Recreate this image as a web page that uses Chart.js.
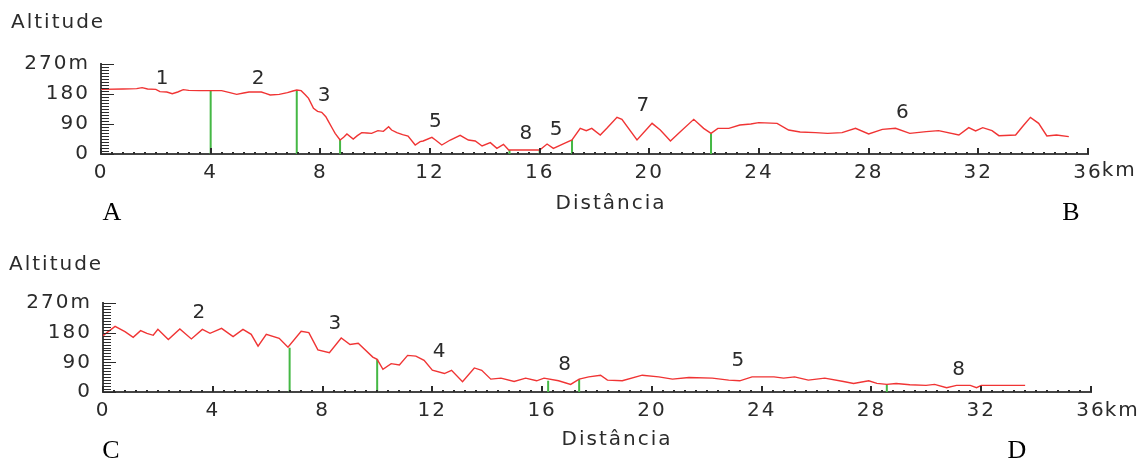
<!DOCTYPE html>
<html>
<head>
<meta charset="utf-8">
<script src="https://cdn.jsdelivr.net/npm/chart.js@4.4.1/dist/chart.umd.min.js"></script>
<style>
  html, body { margin: 0; padding: 0; background: #fff; }
  #wrap { position: relative; width: 1146px; height: 464px; }
  canvas { position: absolute; left: 0; }
</style>
</head>
<body>
<div id="wrap">
  <canvas id="profileAB" width="1146" height="232" style="top:0"></canvas>
  <canvas id="profileCD" width="1146" height="232" style="top:232px"></canvas>
</div>
<script>
// route A -> B (distance km, altitude m)
const abKm = [0, 0.8, 1.3, 1.5, 1.7, 2.0, 2.15, 2.4, 2.6, 2.8, 3.0, 3.2, 3.6, 4.0, 4.4, 4.7, 4.95, 5.2, 5.4, 5.85,
  6.0, 6.17, 6.5, 6.8, 7.0, 7.14, 7.3, 7.45, 7.57, 7.75, 7.9, 8.05, 8.2, 8.3, 8.45, 8.54, 8.72, 8.85, 8.97, 9.2,
  9.35, 9.51, 9.7, 9.87, 10.1, 10.3, 10.49, 10.6, 10.79, 11.0, 11.2, 11.46, 11.64, 11.75, 12.07, 12.2, 12.43, 12.74, 13.1, 13.4,
  13.65, 13.9, 14.2, 14.44, 14.68, 14.87, 16.0, 16.27, 16.5, 16.9, 17.18, 17.48, 17.7, 17.9, 18.21, 18.45, 18.82, 19.0, 19.55, 20.1,
  20.4, 20.77, 21.07, 21.62, 21.98, 22.25, 22.5, 22.9, 23.3, 23.7, 23.99, 24.66, 25.08, 25.5, 26.06, 26.5, 27.03, 27.52, 28.0, 28.5,
  28.98, 29.5, 30.1, 30.55, 31.29, 31.65, 31.9, 32.16, 32.5, 32.75, 33.36, 33.66, 33.9, 34.2, 34.5, 34.85, 35.3];
const abAlt = [194, 195, 196, 199, 195, 194, 187, 186, 181, 186, 193, 191, 190, 190, 190, 184, 179, 183, 186, 186,
  182, 177, 179, 184, 189, 192, 190, 178, 167, 137, 128, 125, 112, 97, 75, 62, 42, 50, 60, 45,
  55, 64, 63, 62, 70, 68, 82, 72, 64, 58, 54, 27, 37, 39, 50, 42, 27, 42, 56, 42,
  39, 24, 34, 17, 29, 12, 12, 30, 17, 32, 42, 77, 70, 77, 57, 77, 110, 104, 42, 92,
  72, 39, 62, 104, 77, 62, 77, 77, 87, 90, 94, 92, 72, 66, 64, 62, 64, 77, 60, 74,
  77, 62, 67, 70, 57, 79, 69, 79, 70, 55, 57, 87, 110, 92, 54, 57, 52];
const abCutKm = [4.0, 7.14, 8.72, 14.9, 16.0, 17.18, 22.25];
const abCutAlt = [190, 192, 42, 12, 12, 42, 62];
const abTagKm = [2.23, 5.73, 8.14, 12.2, 15.5, 16.6, 19.76, 29.23];
const abTagAlt = [226, 225, 174, 97, 60, 72, 145, 123];
const abTagText = ['1', '2', '3', '5', '8', '5', '7', '6'];

// route C -> D
const cdKm = [0, 0.44, 0.8, 1.1, 1.37, 1.6, 1.83, 2.0, 2.38, 2.8, 3.22, 3.62, 3.9, 4.32, 4.74, 5.1, 5.4, 5.65, 5.95, 6.42,
  6.74, 7.22, 7.5, 7.83, 8.25, 8.68, 9.0, 9.3, 9.83, 9.99, 10.2, 10.5, 10.8, 11.1, 11.4, 11.7, 12.0, 12.44, 12.7, 13.1,
  13.53, 13.8, 14.13, 14.5, 14.98, 15.4, 15.8, 16.07, 16.6, 17.04, 17.35, 17.7, 18.13, 18.38, 18.92, 19.65, 20.25, 20.75, 21.35, 22.2,
  22.8, 23.2, 23.65, 24.45, 24.8, 25.2, 25.7, 26.3, 26.98, 27.35, 27.9, 28.2, 28.56, 28.9, 29.4, 29.99, 30.3, 30.74, 31.1, 31.6,
  31.83, 32.0, 33.6];
const cdAlt = [171, 199, 183, 166, 186, 178, 172, 190, 159, 191, 161, 190, 178, 193, 168, 190, 175, 139, 175, 163,
  136, 184, 180, 128, 119, 164, 144, 148, 106, 99, 69, 86, 82, 111, 109, 96, 66, 56, 66, 31,
  73, 66, 39, 42, 32, 42, 34, 42, 34, 23, 39, 46, 51, 36, 34, 51, 46, 39, 44, 42,
  36, 34, 46, 46, 42, 46, 36, 42, 32, 26, 34, 26, 23, 26, 22, 20, 23, 13, 20, 20,
  13, 20, 20];
const cdCutKm = [6.8, 9.99, 16.22, 17.35, 28.56];
const cdCutAlt = [134, 99, 34, 39, 23];
const cdTagKm = [3.49, 8.45, 12.25, 16.82, 23.13, 31.18];
const cdTagAlt = [240, 207, 123, 84, 96, 67];
const cdTagText = ['2', '3', '4', '8', '5', '8'];

const xTicks = [0, 4, 8, 12, 16, 20, 24, 28, 32, 36];
const yTicks = [0, 90, 180, 270];

const FONT = '"DejaVu Sans", sans-serif';
const INK = '#2b2b2b';

// ruler ticks, texts and letters drawn on top of the chart
const rulerPlugin = {
    id: 'ruler',
    beforeDraw(chart) {
        chart.ctx.letterSpacing = '2px';
    },
    afterDraw(chart, args, opts) {
        const { ctx, chartArea: a, scales: { x, y } } = chart;
        ctx.save();
        ctx.fillStyle = INK;
        for (let v = 0; v <= 270; v += 9) {
            const py = Math.round(y.getPixelForValue(v));
            ctx.fillRect(a.left, py, v % 90 === 0 ? 13 : 8, 1);
        }
        for (let i = 0; i <= 90; i++) {
            const px = Math.round(x.getPixelForValue(i * 0.4));
            const h = i % 10 === 0 ? 6 : 2;
            ctx.fillRect(px - 1, a.bottom - h, 2, h);
        }

        ctx.font = '20px ' + FONT;
        ctx.textBaseline = 'middle';
        ctx.textAlign = 'left';
        ctx.fillText('Altitude', opts.titleX, opts.titleY);
        const w36 = ctx.measureText('36').width;
        ctx.fillText('km', x.getPixelForValue(36) + w36 / 2 - 1, opts.kmY);
        ctx.textAlign = 'center';
        ctx.fillText('Distância', opts.axisX, opts.axisY);
        opts.tags.text.forEach((t, i) => {
            ctx.fillText(t, x.getPixelForValue(opts.tags.km[i]) + 1, y.getPixelForValue(opts.tags.alt[i]));
        });

        ctx.letterSpacing = '0px';
        ctx.fillStyle = '#000';
        ctx.font = '26px "Liberation Serif", "Times New Roman", serif';
        opts.letters.forEach(l => ctx.fillText(l.t, l.x, l.y));
        ctx.restore();
    }
};

function drawProfile(canvasId, km, alt, cutKm, cutAlt, frame, decor) {
    const ctx = document.getElementById(canvasId).getContext('2d');
    const cuts = cutKm.flatMap((k, i) => [{ x: k, y: 0 }, { x: k, y: cutAlt[i] }, { x: k, y: null }]);
    return new Chart(ctx, {
        type: 'line',
        data: {
            datasets: [
                {
                    data: km.map((k, i) => ({ x: k, y: alt[i] })),
                    borderColor: '#f03434',
                    borderWidth: 1.4,
                    pointRadius: 0,
                    tension: 0
                },
                {
                    data: cuts,
                    borderColor: '#45b845',
                    borderWidth: 2,
                    pointRadius: 0,
                    spanGaps: false
                }
            ]
        },
        options: {
            responsive: false,
            animation: false,
            layout: { padding: { top: frame.top, right: frame.right, left: 0, bottom: 0 } },
            plugins: {
                legend: { display: false },
                tooltip: { enabled: false },
                ruler: decor
            },
            scales: {
                x: {
                    type: 'linear',
                    min: 0,
                    max: 36,
                    afterBuildTicks: axis => { axis.ticks = xTicks.map(v => ({ value: v })); },
                    afterFit: axis => { axis.height = frame.xHeight; },
                    grid: { display: false, drawTicks: false },
                    border: { display: true, color: '#444', width: 2 },
                    ticks: {
                        padding: 7,
                        color: INK,
                        font: { family: FONT, size: 20 },
                        maxRotation: 0,
                        callback: v => String(v)
                    }
                },
                y: {
                    min: 0,
                    max: 270,
                    afterBuildTicks: axis => { axis.ticks = yTicks.map(v => ({ value: v })); },
                    afterFit: axis => { axis.width = frame.left; },
                    grid: { display: false, drawTicks: false },
                    border: { display: true, color: '#444', width: 2 },
                    ticks: {
                        padding: 11,
                        color: INK,
                        font: { family: FONT, size: 20 },
                        callback: v => v === 270 ? '270m' : String(v)
                    }
                }
            }
        },
        plugins: [rulerPlugin]
    });
}

drawProfile('profileAB', abKm, abAlt, abCutKm, abCutAlt,
    { top: 64, right: 58, left: 101, xHeight: 78 },
    {
        titleX: 11, titleY: 23, axisX: 611, axisY: 204, kmY: 171,
        tags: { km: abTagKm, alt: abTagAlt, text: abTagText },
        letters: [{ t: 'A', x: 112, y: 213 }, { t: 'B', x: 1071, y: 213 }]
    });

drawProfile('profileCD', cdKm, cdAlt, cdCutKm, cdCutAlt,
    { top: 71, right: 55, left: 103, xHeight: 72 },
    {
        titleX: 9, titleY: 33, axisX: 617, axisY: 208, kmY: 179,
        tags: { km: cdTagKm, alt: cdTagAlt, text: cdTagText },
        letters: [{ t: 'C', x: 111, y: 219 }, { t: 'D', x: 1017, y: 219 }]
    });
</script>
</body>
</html>
